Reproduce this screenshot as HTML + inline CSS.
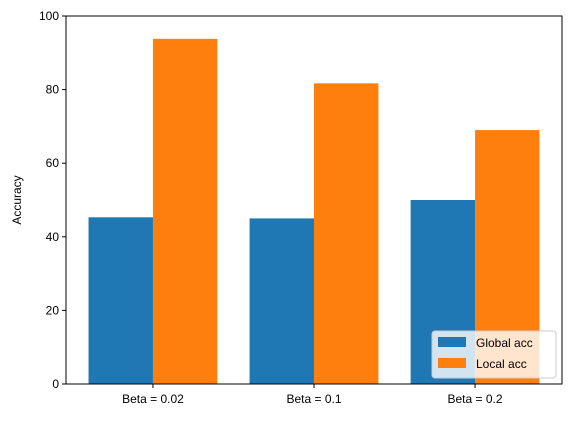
<!DOCTYPE html>
<html><head><meta charset="utf-8"><style>
body{margin:0;background:#fff;}
svg text{font-family:"Liberation Sans","DejaVu Sans",sans-serif;font-size:12px;fill:#000;}
</style></head><body>
<svg id="c" width="571" height="418" xmlns="http://www.w3.org/2000/svg">
<g id="bars"></g>
<g id="axes"></g>
</svg>
<script>
const categories=["Beta = 0.02","Beta = 0.1","Beta = 0.2"];
const globalAcc=[45.3,45.0,50.0];
const localAcc=[93.8,81.7,69.0];
const yTicks=[0,20,40,60,80,100];
const L=66,R=562,T=16,B=384;
const x=i=>L+(i+0.54)*((R-L)/3.08);
const y=v=>B-(v/100)*(B-T);
const unit=(R-L)/3.08,bw=unit*0.4;
const NS="http://www.w3.org/2000/svg";
function mk(t,a,p){const e=document.createElementNS(NS,t);for(const k in a)e.setAttribute(k,a[k]);p.appendChild(e);return e;}
const bars=document.getElementById('bars'),axes=document.getElementById('axes');
categories.forEach((c,i)=>{
  let b=mk('rect',{x:x(i)-bw,y:y(globalAcc[i]),width:bw,height:B-y(globalAcc[i]),fill:'#1f77b4'},bars);
  
  
  let o=mk('rect',{x:x(i),y:y(localAcc[i]),width:bw,height:B-y(localAcc[i]),fill:'#ff7f0e'},bars);
  
  
  mk('line',{x1:x(i),x2:x(i),y1:B,y2:B+4,stroke:'#000'},axes);
  let t=mk('text',{x:x(i),y:B+19,'text-anchor':'middle'},axes);t.textContent=c;
  
  
});
yTicks.forEach(v=>{
  mk('line',{x1:L-4,x2:L,y1:y(v),y2:y(v),stroke:'#000'},axes);
  let t=mk('text',{x:L-7,y:y(v)+4,'text-anchor':'end'},axes);t.textContent=v;
  
  
});
mk('rect',{x:L,y:T,width:R-L,height:B-T,fill:'none',stroke:'#000','stroke-width':1},axes);
let yt=mk('text',{x:21,y:(T+B)/2,'text-anchor':'middle',transform:`rotate(-90 21 ${(T+B)/2})`},axes);yt.textContent='Accuracy';


const lg=mk('g',{},axes);


mk('rect',{x:432,y:331,width:124,height:47,rx:3,fill:'#fff','fill-opacity':0.8,stroke:'#ccc'},lg);
mk('rect',{x:438,y:337,width:28,height:10,fill:'#1f77b4'},lg);
mk('rect',{x:438,y:358,width:28,height:10,fill:'#ff7f0e'},lg);
let l1=mk('text',{x:476,y:347},lg);l1.textContent='Global acc';
let l2=mk('text',{x:476,y:368},lg);l2.textContent='Local acc';
</script>
</body></html>
